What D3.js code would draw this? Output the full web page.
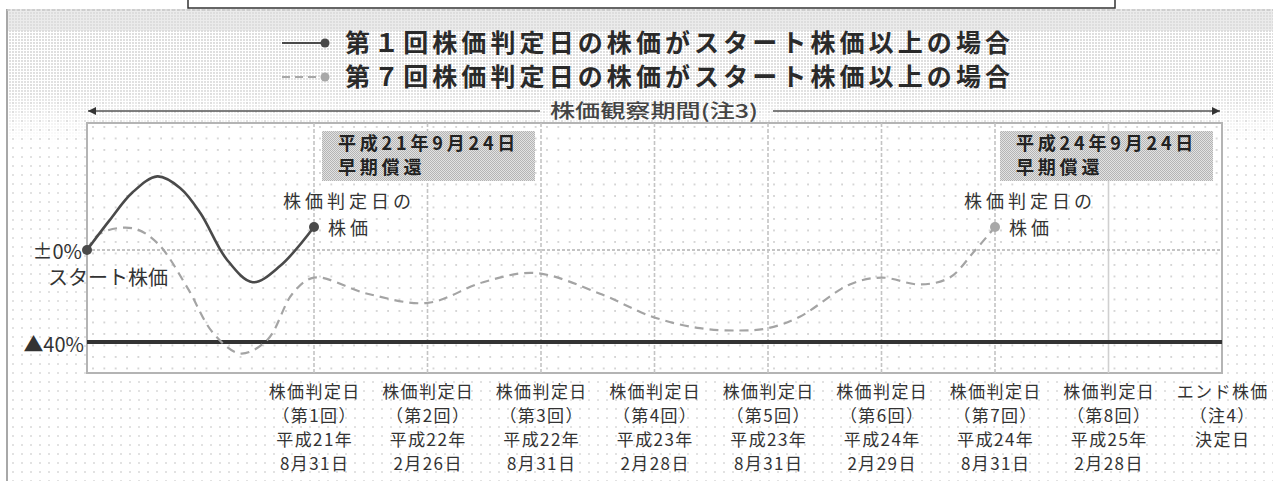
<!DOCTYPE html>
<html>
<head>
<meta charset="utf-8">
<script type="text/javascript" src="https://cdn.jsdelivr.net/npm/d3@7"></script>
<title>株価判定日と早期償還</title>
<style>
body { margin:0; background:#fff; }
text { font-family:"Noto Sans CJK JP", "Noto Sans", sans-serif; }
</style>
</head>
<body>
<div id="chart"></div>
<script type="text/javascript">
// values: t = half-year steps from the start, v = % vs start price
var firstPath = [[0,0],[0.2,13],[0.4,25],[0.62,32],[0.82,27],[1.0,16],[1.23,-4],[1.46,-14],[1.7,-7],[2,10]];
var seventhPath = [[0,0],[0.11,7],[0.4,9.5],[0.62,3],[0.88,-16],[1.11,-36],[1.35,-45],[1.59,-39],[1.81,-19],[2.0,-12],
                   [2.47,-19],[3.0,-23],[3.49,-14],[3.95,-10],[4.52,-19],[4.98,-29],[5.4,-34],[5.75,-35],[6.0,-34],
                   [6.28,-29],[6.72,-15],[7.0,-12],[7.34,-15],[7.6,-12],[7.81,-1],[8.0,10]];
var gridSteps = [2,3,4,5,6,7,8,9];
var tickSteps = [2,3,4,5,6,7,8,9,10];
var tickLabels = [
  ["株価判定日","（第1回）","平成21年","8月31日"],
  ["株価判定日","（第2回）","平成22年","2月26日"],
  ["株価判定日","（第3回）","平成22年","8月31日"],
  ["株価判定日","（第4回）","平成23年","2月28日"],
  ["株価判定日","（第5回）","平成23年","8月31日"],
  ["株価判定日","（第6回）","平成24年","2月29日"],
  ["株価判定日","（第7回）","平成24年","8月31日"],
  ["株価判定日","（第8回）","平成25年","2月28日"],
  ["エンド株価","（注4）","決定日"]
];
var legendNames = ["第１回株価判定日の株価がスタート株価以上の場合","第７回株価判定日の株価がスタート株価以上の場合"];
var redeemNotes = [[2,["平成21年9月24日","早期償還"]],[8,["平成24年9月24日","早期償還"]]];
var barrierLevel = -40;

var w = 1273, h = 481;
var pLeft = 87, pRight = 1222, pTop = 123, pBottom = 373;

var x = d3.scaleLinear().domain([0,10]).range([pLeft,pRight]);
var y = d3.scaleLinear().domain([-40,0]).range([342,250]);

var svg = d3.select("#chart").append("svg")
  .attr("width", w).attr("height", h);

var defs = svg.append("defs");
var p1 = defs.append("pattern").attr("id","dotsOut").attr("patternUnits","userSpaceOnUse")
  .attr("width",9).attr("height",9);
p1.append("circle").attr("cx",4).attr("cy",4).attr("r",0.8).attr("fill","#bdbdbd");
var p2 = defs.append("pattern").attr("id","dotsIn").attr("patternUnits","userSpaceOnUse")
  .attr("width",11.35).attr("height",11.5).attr("x",pLeft+5).attr("y",pTop+3);
p2.append("circle").attr("cx",1).attr("cy",1).attr("r",0.9).attr("fill","#c6c6c6");
var p3 = defs.append("pattern").attr("id","dotsFine").attr("patternUnits","userSpaceOnUse")
  .attr("width",3).attr("height",3);
p3.append("rect").attr("width",3).attr("height",3).attr("fill","#fff");
p3.append("rect").attr("width",2).attr("height",2).attr("fill","#dcdcdc");
var p4 = defs.append("pattern").attr("id","boxFill").attr("patternUnits","userSpaceOnUse")
  .attr("width",2).attr("height",2);
p4.append("rect").attr("width",2).attr("height",2).attr("fill","#e2e2e2");
p4.append("rect").attr("width",1).attr("height",1).attr("fill","#b4b4b4");
p4.append("rect").attr("x",1).attr("y",1).attr("width",1).attr("height",1).attr("fill","#b4b4b4");
var m = defs.append("linearGradient").attr("id","fadeW").attr("x1",0).attr("y1",0).attr("x2",0).attr("y2",1);
m.append("stop").attr("offset","0").attr("stop-color","#fff").attr("stop-opacity",1);
m.append("stop").attr("offset","0.6").attr("stop-color","#fff").attr("stop-opacity",0.85);
m.append("stop").attr("offset","1").attr("stop-color","#fff").attr("stop-opacity",0);
defs.append("mask").attr("id","fadeMask").append("rect")
  .attr("x",0).attr("y",9).attr("width",w).attr("height",135).attr("fill","url(#fadeW)");

// panel background
svg.append("rect").attr("x",7).attr("y",9).attr("width",w-7).attr("height",h-9)
  .attr("fill","url(#dotsOut)");
svg.append("rect").attr("x",7).attr("y",9).attr("width",w-7).attr("height",135)
  .attr("fill","url(#dotsFine)").attr("mask","url(#fadeMask)");
svg.append("rect").attr("x",7).attr("y",9).attr("width",w-7).attr("height",22)
  .attr("fill","#dedede").attr("opacity",0.6);
svg.append("line").attr("x1",7).attr("x2",7).attr("y1",9).attr("y2",h)
  .attr("stroke","#a8a8a8").attr("stroke-width",2);
svg.append("line").attr("x1",7).attr("x2",w).attr("y1",10).attr("y2",10)
  .attr("stroke","#c8c8c8").attr("stroke-width",1.5).attr("stroke-dasharray","3,2");

// box at the top edge
svg.append("rect").attr("x",188).attr("y",-10).attr("width",927).attr("height",18)
  .attr("fill","#fff").attr("stroke","#333").attr("stroke-width",1.5);

// legend
legendNames.forEach(function(name,i){
  var ly = 43 + i*34;
  svg.append("line").attr("x1",282).attr("x2",322).attr("y1",ly).attr("y2",ly)
    .attr("stroke", i==0 ? "#4a4a4a" : "#a8a8a8").attr("stroke-width",2.2)
    .attr("stroke-dasharray", i==0 ? null : "8,5");
  svg.append("circle").attr("cx",325).attr("cy",ly).attr("r",4.5)
    .attr("fill", i==0 ? "#4a4a4a" : "#a8a8a8");
  svg.append("text").attr("x",345).attr("y",ly).attr("dy","0.36em")
    .attr("font-size",25).attr("font-weight","bold").attr("fill","#2a2a2a")
    .attr("textLength",665).attr("lengthAdjust","spacing").text(name);
});

// observation period arrow
var ay = 111;
svg.append("line").attr("x1",x(0)+1).attr("x2",540).attr("y1",ay).attr("y2",ay)
  .attr("stroke","#555").attr("stroke-width",1.4);
svg.append("line").attr("x1",773).attr("x2",x(10)-2).attr("y1",ay).attr("y2",ay)
  .attr("stroke","#555").attr("stroke-width",1.4);
svg.append("path").attr("d","M"+(x(0)+1)+","+ay+"l8,-4l0,8z").attr("fill","#333");
svg.append("path").attr("d","M"+(x(10)-2)+","+ay+"l-8,-4l0,8z").attr("fill","#333");
svg.append("text").attr("x",550).attr("y",ay).attr("dy","0.36em")
  .attr("font-size",19).attr("font-weight",500).attr("fill","#444")
  .attr("textLength",208).attr("lengthAdjust","spacingAndGlyphs")
  .text("株価観察期間(注3)");

// plot area
svg.append("rect").attr("x",pLeft).attr("y",pTop).attr("width",pRight-pLeft).attr("height",pBottom-pTop)
  .attr("fill","#fff");
svg.append("rect").attr("x",pLeft).attr("y",pTop).attr("width",pRight-pLeft).attr("height",pBottom-pTop)
  .attr("fill","url(#dotsIn)").attr("stroke","#b4b4b4").attr("stroke-width",2);

svg.selectAll("line.grid").data(gridSteps).enter().append("line")
  .attr("class","grid")
  .attr("x1",function(d){ return x(d); }).attr("x2",function(d){ return x(d); })
  .attr("y1",pTop).attr("y2",pBottom)
  .attr("stroke",function(d){ return d==9 ? "#d0d0d0" : "#c4c4c4"; })
  .attr("stroke-width",1.6)
  .attr("stroke-dasharray",function(d){ return d==9 ? null : "4,2"; });

// ±0% line and -40% barrier
svg.append("line").attr("x1",pLeft).attr("x2",pRight).attr("y1",y(0)).attr("y2",y(0))
  .attr("stroke","#c4c4c4").attr("stroke-width",2).attr("stroke-dasharray","3,2");
svg.append("line").attr("x1",pLeft).attr("x2",pRight).attr("y1",y(barrierLevel)).attr("y2",y(barrierLevel))
  .attr("stroke","#333").attr("stroke-width",4);

// redemption boxes
redeemNotes.forEach(function(n){
  var bx = n[0]==2 ? 322 : 1000;
  svg.append("rect").attr("x",bx).attr("y",131).attr("width",213).attr("height",50)
    .attr("fill","url(#boxFill)");
  n[1].forEach(function(s,j){
    svg.append("text").attr("x",bx+16).attr("y",144+j*24).attr("dy","0.36em")
      .attr("font-size",18).attr("font-weight","bold").attr("fill","#222")
      .attr("letter-spacing",3.8).text(s);
  });
});

// series lines
var line = d3.line()
  .x(function(d){ return x(d[0]); })
  .y(function(d){ return y(d[1]); })
  .curve(d3.curveCatmullRom.alpha(0.5));

svg.append("path").datum(seventhPath).attr("d",line)
  .attr("fill","none").attr("stroke","#a4a4a4").attr("stroke-width",2.2)
  .attr("stroke-dasharray","9,6");
svg.append("path").datum(firstPath).attr("d",line)
  .attr("fill","none").attr("stroke","#4a4a4a").attr("stroke-width",2.6);

var ends = [[firstPath[0], "#4a4a4a"], [firstPath[firstPath.length-1], "#4a4a4a"],
            [seventhPath[seventhPath.length-1], "#a8a8a8"]];
svg.selectAll("circle.end").data(ends).enter().append("circle")
  .attr("class","end")
  .attr("cx",function(d){ return x(d[0][0]); })
  .attr("cy",function(d){ return y(d[0][1]); })
  .attr("r",5).attr("fill",function(d){ return d[1]; });

// judgment-day annotations
[firstPath[firstPath.length-1], seventhPath[seventhPath.length-1]].forEach(function(p){
  var px = x(p[0]);
  svg.append("text").attr("x",px-31).attr("y",202).attr("dy","0.36em")
    .attr("font-size",18).attr("fill","#333").attr("letter-spacing",4).text("株価判定日の");
  svg.append("text").attr("x",px+14).attr("y",229).attr("dy","0.36em")
    .attr("font-size",18).attr("fill","#333").attr("letter-spacing",4).text("株価");
});

// y labels
svg.append("text").attr("x",82).attr("y",y(0)+2).attr("dy","0.36em").attr("text-anchor","end")
  .attr("font-size",20).attr("fill","#333").text("±0%");
svg.append("text").attr("x",48).attr("y",278).attr("dy","0.36em")
  .attr("font-size",20).attr("fill","#333").text("スタート株価");
svg.append("text").attr("x",84).attr("y",y(barrierLevel)+3).attr("dy","0.36em").attr("text-anchor","end")
  .attr("font-size",20).attr("fill","#333").text("▲40%");

// x labels
var xl = svg.selectAll("g.xlab").data(tickSteps).enter().append("g").attr("class","xlab");
xl.each(function(d,i){
  var gg = d3.select(this);
  tickLabels[i].forEach(function(s,j){
    gg.append("text").attr("x",x(d)+0.7).attr("y",392+j*24).attr("dy","0.36em")
      .attr("text-anchor","middle").attr("font-size",17).attr("letter-spacing",1.4)
      .attr("fill","#333").text(s);
  });
});
</script>
</body></html>
